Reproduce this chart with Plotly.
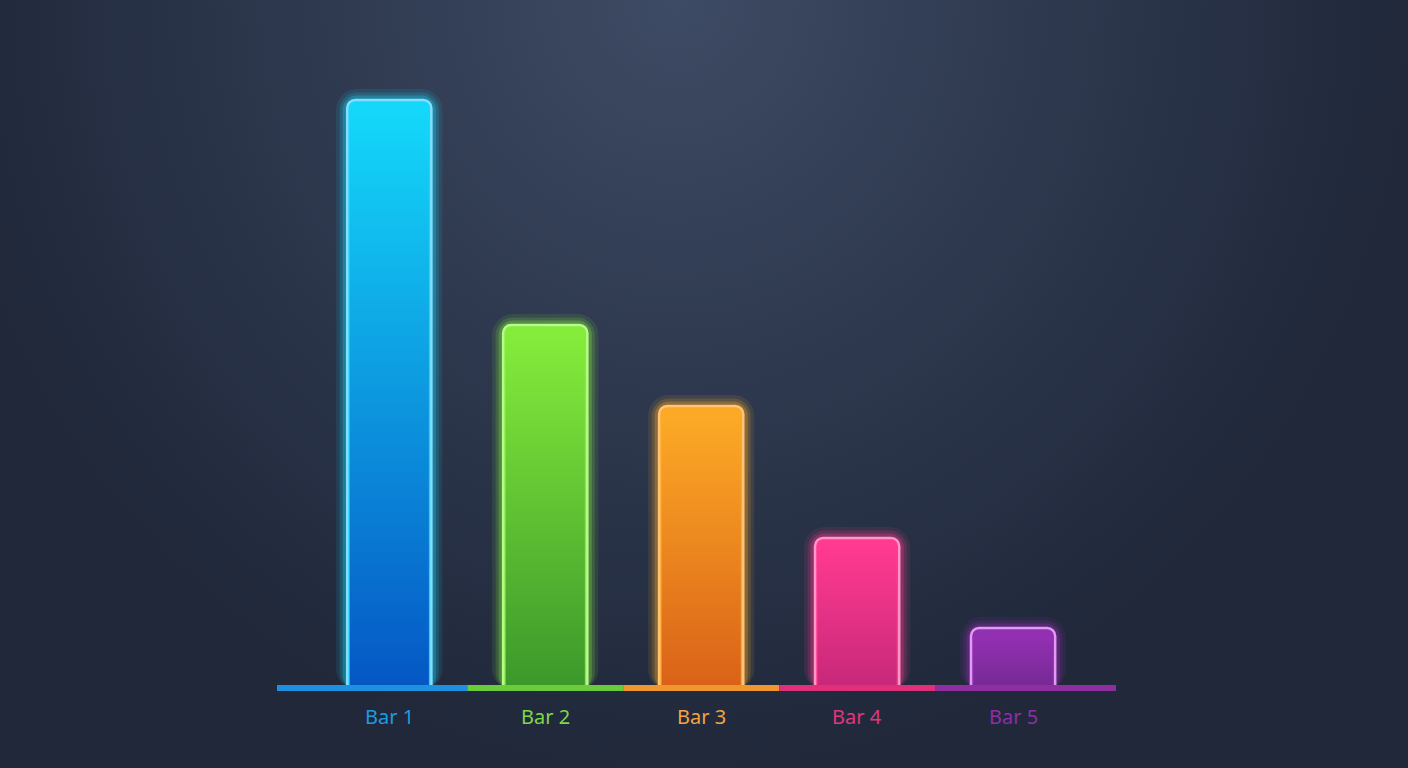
import plotly.graph_objects as go

# données du graphique
categories = ["Bar 1", "Bar 2", "Bar 3", "Bar 4", "Bar 5"]
valeurs = [98, 60.5, 47, 25, 10]
couleurs_haut = ["#14D8FA", "#85EC3B", "#FCAA26", "#FF3A90", "#9230B2"]
couleurs_bas = ["#0557C4", "#3C982B", "#DA6218", "#C8287A", "#772996"]
couleurs_bord = ["#86DDFF", "#B6FA8C", "#FFC47A", "#FF96C6", "#E49AF5"]
couleurs_label = ["#1E9BE0", "#7ED84A", "#F5A340", "#E0357F", "#8E2FA8"]
couleurs_base = ["#1E90E0", "#6CCB3A", "#F0962E", "#E0307A", "#8E2FA0"]

LARGEUR = 0.54
PX_X = 156  # pixels par unité en x
PX_Y = 6  # pixels par unité en y
X_RANGE = [-0.72, len(categories) - 1 + 0.66]
Y_RANGE = [-2, 108]

x = list(range(len(categories)))
fig = go.Figure()

# fond radial (axes x / y sur toute la page)
fig.add_trace(go.Scatter(
    x=[-0.04, 1.0, 1.0, -0.04, -0.04], y=[0, 0, 2, 2, 0],
    fill="toself", mode="none", hoverinfo="skip", showlegend=False,
    fillgradient=dict(type="radial",
                      colorscale=[[0, "#3E4B64"], [0.5, "#2E394F"], [1, "#20283A"]]),
    xaxis="x", yaxis="y",
))

# halo lumineux (le bas du halo reste caché sous la ligne de base)
for lw, alpha in [(22, 0.10), (15, 0.16), (9, 0.28)]:
    b = (lw / 2 - 2) / PX_Y
    for i in x:
        fig.add_trace(go.Bar(
            x=[i], y=[valeurs[i] - b], base=[b], width=LARGEUR,
            marker=dict(color="rgba(0,0,0,0)", cornerradius=10,
                        line=dict(color=couleurs_haut[i], width=lw)),
            opacity=alpha, hoverinfo="skip", showlegend=False,
            xaxis="x2", yaxis="y2",
        ))

# barres pleines avec bordure claire
for i in x:
    fig.add_trace(go.Bar(
        x=[i], y=[valeurs[i]], width=LARGEUR,
        marker=dict(color=couleurs_haut[i], cornerradius=8,
                    line=dict(color=couleurs_bord[i], width=2.5)),
        hoverinfo="skip", showlegend=False,
        xaxis="x2", yaxis="y2",
    ))

# dégradé vertical à l'intérieur des barres
dx = 2.5 / PX_X
dy = 9 / PX_Y
for i in x:
    g, d = i - LARGEUR / 2 + dx, i + LARGEUR / 2 - dx
    haut = valeurs[i] - dy
    fig.add_trace(go.Scatter(
        x=[g, d, d, g, g], y=[0.4, 0.4, haut, haut, 0.4],
        fill="toself", mode="none", hoverinfo="skip", showlegend=False,
        fillgradient=dict(type="vertical",
                          colorscale=[[0, couleurs_bas[i]], [1, couleurs_haut[i]]]),
        xaxis="x2", yaxis="y2",
    ))

# ligne de base colorée
bornes = [X_RANGE[0]] + [i + 0.5 for i in x[:-1]] + [X_RANGE[1]]
for i in x:
    fig.add_trace(go.Scatter(
        x=[bornes[i], bornes[i + 1]], y=[0, 0], mode="lines",
        line=dict(color=couleurs_base[i], width=6),
        hoverinfo="skip", showlegend=False,
        xaxis="x2", yaxis="y2",
    ))

annotations = [
    dict(x=i, y=0, xref="x2", yref="y2", text=categories[i], showarrow=False,
         yshift=-28, font=dict(family="Noto Sans", size=20, color=couleurs_label[i]))
    for i in x
]

fig.update_layout(
    width=1408, height=768,
    margin=dict(l=0, r=0, t=0, b=0),
    paper_bgcolor="#1D2436", plot_bgcolor="rgba(0,0,0,0)",
    barmode="overlay", showlegend=False,
    xaxis=dict(domain=[0, 1], range=[0, 1], visible=False, fixedrange=True),
    yaxis=dict(domain=[0, 1], range=[0, 1], visible=False, fixedrange=True),
    xaxis2=dict(domain=[277 / 1408, 1116 / 1408], range=X_RANGE, anchor="y2",
                visible=False, fixedrange=True),
    yaxis2=dict(domain=[68 / 768, 728 / 768], range=Y_RANGE, anchor="x2",
                visible=False, fixedrange=True),
    annotations=annotations,
)

# pas de marge blanche autour du graphique
fig.write_html("out.html", config={"displayModeBar": False},
               post_script="document.body.style.margin='0';"
                           "document.body.style.background='#1D2436';")
